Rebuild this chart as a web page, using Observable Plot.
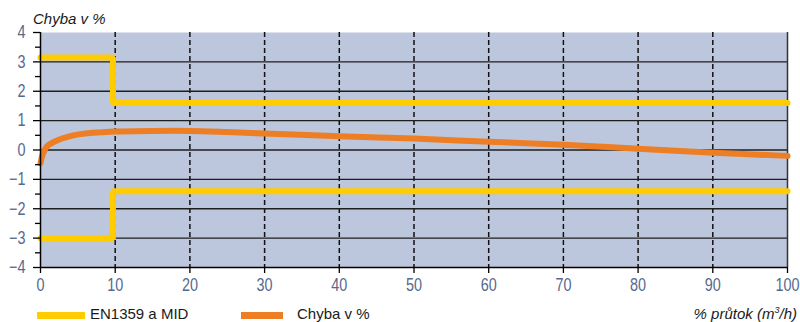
<!DOCTYPE html>
<html>
<head>
<meta charset="utf-8">
<script src="https://cdn.jsdelivr.net/npm/d3@7"></script>
<script src="https://cdn.jsdelivr.net/npm/@observablehq/plot@0.6"></script>
<style>
  html, body { margin: 0; padding: 0; background: #fff; }
  body { width: 800px; height: 322px; position: relative; overflow: hidden; font-family: "Liberation Sans", Arial, sans-serif; color: #1a1a1a; }
  .abs { position: absolute; white-space: nowrap; font-size: 15px; line-height: 17px; }
  #chart { position: absolute; left: 0; top: 22px; }
  .sw { position: absolute; height: 7px; }
</style>
</head>
<body>
<div class="abs" style="left:33px; top:10px; font-style:italic;">Chyba v %</div>
<div id="chart"></div>
<div class="sw" style="left:37px; top:312px; width:48px; background:#FFCC00;"></div>
<div class="abs" style="left:90px; top:305px;">EN1359 a MID</div>
<div class="sw" style="left:241px; top:312px; width:42px; background:#EE7E24;"></div>
<div class="abs" style="left:297px; top:305px;">Chyba v %</div>
<div class="abs" style="right:3px; top:305px; font-style:italic;">% průtok (m<sup style="font-size:9px; line-height:0;">3</sup>/h)</div>
<script>
// Data
const xDomain = [0, 100];
const yDomain = [-4, 4];
const xTicks = [0, 10, 20, 30, 40, 50, 60, 70, 80, 90, 100];
const yTicks = [-4, -3, -2, -1, 0, 1, 2, 3, 4];
const yMinorTicks = [-3.5, -2.5, -1.5, -0.5, 0.5, 1.5, 2.5, 3.5];

// EN1359 a MID limits (step function)
const limitX = [0, 9.7, 9.7, 100];
const limitUpper = [3.15, 3.15, 1.6, 1.6];
const limitLower = [-3, -3, -1.4, -1.4];

// Chyba v % (error curve)
const flowX = [0, 0.3, 0.9, 2, 3, 4.4, 6, 8, 10, 15, 20, 25, 30, 40, 50, 60, 70, 80, 90, 100];
const errorY = [-0.45, -0.15, 0.13, 0.3, 0.4, 0.5, 0.56, 0.6, 0.63, 0.65, 0.65, 0.61, 0.56, 0.47, 0.39, 0.28, 0.18, 0.04, -0.09, -0.2];

const upper = limitX.map((x, i) => ({x, y: limitUpper[i]}));
const lower = limitX.map((x, i) => ({x, y: limitLower[i]}));
const errors = flowX.map((x, i) => ({x, y: errorY[i]}));

const tickColor = "#55698e";

const chart = Plot.plot({
  width: 800,
  height: 278,
  marginLeft: 40,
  marginRight: 13,
  marginTop: 10,
  marginBottom: 33,
  style: {
    background: "transparent",
    fontFamily: "'Liberation Sans', Arial, sans-serif",
    fontSize: "18px",
    overflow: "visible"
  },
  x: {domain: xDomain},
  y: {domain: yDomain},
  marks: [
    Plot.frame({fill: "#BCC6DC", stroke: null}),
    Plot.gridX(xTicks.slice(1, -1), {stroke: "#111", strokeOpacity: 1, strokeWidth: 1.5, strokeDasharray: "5,3"}),
    Plot.gridY(yTicks.slice(1, -1), {stroke: "#1e1e1e", strokeOpacity: 1, strokeWidth: 1.3}),
    Plot.ruleX([xDomain[1]], {stroke: "#333", strokeWidth: 1.5}),
    Plot.line(upper, {x: "x", y: "y", stroke: "#FFCC00", strokeWidth: 6, strokeLinejoin: "miter"}),
    Plot.line(lower, {x: "x", y: "y", stroke: "#FFCC00", strokeWidth: 6, strokeLinejoin: "miter"}),
    Plot.line(errors, {x: "x", y: "y", stroke: "#EE7E24", strokeWidth: 6, curve: "catmull-rom"}),
    Plot.ruleY([yDomain[0]], {stroke: "#000", strokeWidth: 1.5}),
    Plot.ruleX([xDomain[0]], {stroke: "#000", strokeWidth: 1.5}),
    Plot.axisX(xTicks, {tickSize: 6, tickPadding: 5, label: null, color: tickColor, stroke: "#000", strokeWidth: 1.3}),
    Plot.axisY(yTicks, {tickSize: 7, tickPadding: 8, label: null, color: tickColor, stroke: "#000", strokeWidth: 1.3}),
    Plot.axisY(yMinorTicks, {tickSize: 5, text: null, label: null, stroke: "#000", strokeWidth: 1.3})
  ]
});
document.getElementById("chart").appendChild(chart);

// condense tick label glyphs to match the narrow face of the reference
chart.querySelectorAll('g[aria-label$="tick label"] text').forEach((t) => {
  const len = t.getComputedTextLength();
  if (len > 0) {
    t.setAttribute("textLength", (len * 0.8).toFixed(2));
    t.setAttribute("lengthAdjust", "spacingAndGlyphs");
  }
});
</script>
</body>
</html>
